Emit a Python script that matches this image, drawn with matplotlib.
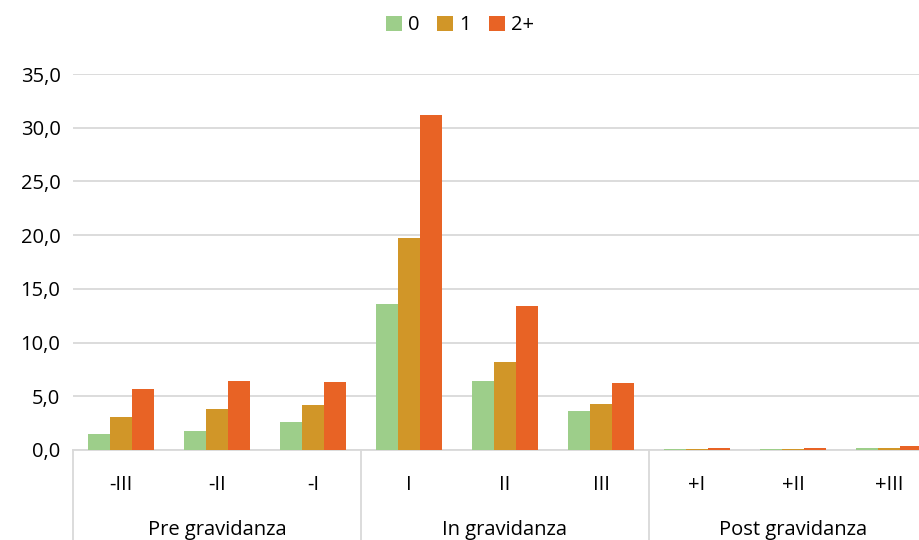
import matplotlib
matplotlib.use("Agg")
import matplotlib.pyplot as plt
import numpy as np
from matplotlib.transforms import blended_transform_factory

categories = ["-III", "-II", "-I", "I", "II", "III", "+I", "+II", "+III"]
groups = ["Pre gravidanza", "In gravidanza", "Post gravidanza"]
series_names = ["0", "1", "2+"]
vals_0 = [1.5, 1.8, 2.6, 13.6, 6.4, 3.6, 0.1, 0.1, 0.2]
vals_1 = [3.1, 3.8, 4.2, 19.7, 8.2, 4.3, 0.1, 0.1, 0.2]
vals_2 = [5.7, 6.4, 6.3, 31.2, 13.4, 6.2, 0.2, 0.2, 0.4]
yticks = [0, 5, 10, 15, 20, 25, 30, 35]

colors = ["#9DCE8A", "#D19628", "#E86325"]
plt.rcParams['font.family'] = ['Open Sans', 'DejaVu Sans']
fs = 14.5

fig = plt.figure(figsize=(9.2, 5.4), dpi=100)
ax = fig.add_axes([73/920, 90/540, 864/920, 376/540])

x = np.arange(len(categories))
w = 0.23
for i, (vals, c, n) in enumerate(zip([vals_0, vals_1, vals_2], colors, series_names)):
    ax.bar(x + (i - 1) * w, vals, width=w, color=c, label=n, zorder=3)

ax.set_xlim(-0.5, len(categories) - 0.5)
ax.set_ylim(0, 35)
ax.set_yticks(yticks)
ax.set_yticklabels([f"{v:.1f}".replace(".", ",") for v in yticks], fontsize=fs)
ax.yaxis.grid(True, color="#d9d9d9", linewidth=1.3, zorder=0)
ax.tick_params(axis="y", length=0, pad=9)
for s in ["top", "right", "left"]:
    ax.spines[s].set_visible(False)
ax.spines["bottom"].set_color("#d9d9d9")
ax.spines["bottom"].set_linewidth(1.3)

ax.set_xticks(x)
ax.set_xticklabels(categories, fontsize=fs)
ax.tick_params(axis="x", length=0, pad=18)

trans = blended_transform_factory(ax.transData, ax.transAxes)
for gi, g in enumerate(groups):
    ax.text(gi * 3 + 1, -0.213, g, transform=trans, ha="center", va="center", fontsize=fs)
for b in [-0.5, 2.5, 5.5, 8.5]:
    ax.plot([b, b], [0, -0.3], transform=trans, color="#d9d9d9", linewidth=1.3, clip_on=False)

leg = fig.legend(loc="upper center", bbox_to_anchor=(0.5, 1.005), ncol=3, frameon=False,
                 fontsize=fs, handlelength=0.8, handleheight=0.8, handletextpad=0.3,
                 columnspacing=0.9)

fig.savefig("out.png", dpi=100)
